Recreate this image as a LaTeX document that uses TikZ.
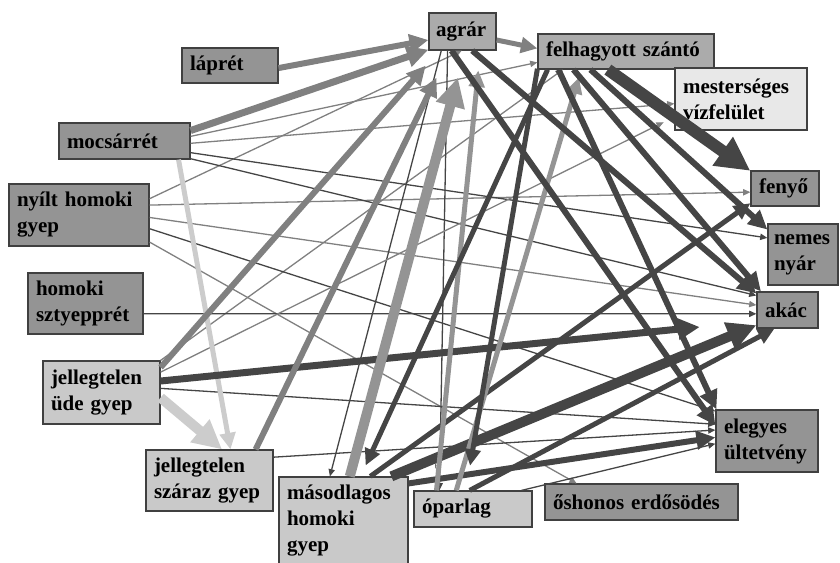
\documentclass[tikz,border=0pt]{standalone}
\usepackage{fontspec}
\setmainfont{Liberation Serif}
\usetikzlibrary{arrows.meta}

\tikzset{
  box/.style={draw=black!75, line width=1.2pt, inner xsep=8pt, inner ysep=2pt,
    align=left, font=\fontsize{21}{26}\selectfont\bfseries},
  darkbox/.style={box, fill=black!42},
  midbox/.style={box, fill=black!33},
  lightbox/.style={box, fill=black!21},
  palebox/.style={box, fill=black!9},
  flow/.style={-{Triangle[length=4pt 2.5, width=3pt 2.5]}},
  fw1/.style={flow, line width=1.3pt},
  fw5/.style={flow, line width=5pt},
  fw6/.style={flow, line width=6pt},
  fw7/.style={flow, line width=7pt},
  fw10/.style={flow, line width=10pt},
  fw12/.style={flow, line width=12pt},
  dk/.style={color=black!73},
  gy/.style={color=black!50},
  lgy/.style={color=black!42},
  lt/.style={color=black!20},
}

\begin{document}
\begin{tikzpicture}[x=1pt, y=-1pt]
  \useasboundingbox (0,0) rectangle (840,562);
  \clip (0,0) rectangle (840,562);

  % land cover classes
  \node[darkbox, text width=80pt, minimum height=35pt] (lap) at (230,65.5) {láprét};
  \node[midbox, text width=53pt, inner xsep=7pt, minimum height=37pt] (agr) at (462.5,31.5) {agrár};
  \node[midbox, text width=160pt, minimum height=35pt] (fel) at (626,51.5) {felhagyott szántó};
  \node[palebox, text width=116pt, minimum height=62pt] (mes) at (741,99) {mesterséges\\vízfelület};
  \node[darkbox, text width=52pt, minimum height=35pt] (fen) at (785,188.5) {fenyő};
  \node[darkbox, text width=58pt, inner xsep=6pt, minimum height=61pt] (nem) at (803,254.5) {nemes\\nyár};
  \node[darkbox, text width=45pt, minimum height=36pt] (aka) at (787.5,310) {akác};
  \node[darkbox, text width=86pt, minimum height=62pt] (ele) at (767,441) {elegyes\\ültetvény};
  \node[darkbox, text width=177pt, minimum height=36pt] (osh) at (641.5,502) {őshonos erdősödés};
  \node[lightbox, text width=102pt, minimum height=36pt] (opa) at (473,509) {óparlag};
  \node[lightbox, text width=113pt, minimum height=88pt] (mas) at (343.5,521) {másodlagos\\homoki\\gyep};
  \node[lightbox, text width=111pt, minimum height=61pt] (sza) at (209.5,480.5) {jellegtelen\\száraz gyep};
  \node[lightbox, text width=101pt, minimum height=63pt] (ude) at (101.5,392.5) {jellegtelen\\üde gyep};
  \node[darkbox, text width=99pt, minimum height=61pt] (szt) at (85.5,303.5) {homoki\\sztyepprét};
  \node[darkbox, text width=124pt, minimum height=62pt] (nyi) at (79,215) {nyílt homoki\\gyep};
  \node[darkbox, text width=115pt, minimum height=36pt] (moc) at (124.5,141) {mocsárrét};
  \node[font=\fontsize{10}{10}\selectfont, text=black!65] (six) at (437,466) {6};

  % thin transitions
  \foreach \from/\to in {moc.4/fel.187, moc.-2/mes.184, nyi.13/agr.268, nyi.8/fen.186,
      nyi.-2/aka.171, nyi.-21/osh.164, ude.north east/fel.196}
    \draw[fw1,gy] (\from) -- (\to);
  \foreach \from/\to in {moc.-10/nem.155, moc.-15/aka.155, nyi.-11/ele.150, szt.-10/aka.187,
      ude.4/ele.162, sza.20/ele.168, agr.222/mas.107, agr.232/opa.151, opa.21/ele.183}
    \draw[fw1,dk] (\from) -- (\to);
  \draw[fw1,gy,shorten >=12pt] (ude.19) -- (mes.195);

  % from the left
  \draw[fw6,gy] (lap.-3) -- (agr.194);
  \draw[fw7,gy] (moc.9) -- (agr.208);
  \draw[fw5,lt] (moc.-19) -- (sza.56);
  \draw[fw10,lt] (ude.-5) -- (sza.68);
  \draw[fw6,gy,shorten >=20pt] (ude.23) -- (agr.219);
  \draw[fw7,dk,shorten >=57pt] (ude.11) -- (aka.200);
  \draw[fw6,gy,shorten >=30pt] (sza.34) -- (agr.236);

  % from the bottom
  \draw[fw10,lgy,shorten >=28pt] (mas.82) -- (agr.278);
  \draw[fw5,dk] (mas.59) -- (fen.203);
  \draw[fw10,dk] (mas.43) -- (aka.206);
  \draw[fw6,dk] (mas.30) -- (ele.176);
  \draw[fw5,lgy,shorten >=20pt] (opa.153) -- (agr.313);
  \draw[fw5,lgy,shorten >=8pt] (opa.132) -- (fel.202);
  \draw[fw5,dk] (opa.100) -- (aka.235);

  % from agrár and felhagyott szántó
  \draw[fw5,gy] (agr.-14) -- (fel.178);
  \draw[fw6,dk] (agr.240) -- (ele.163);
  \draw[fw6,dk] (agr.297) -- (aka.152);
  \draw[fw5,dk,shorten >=25pt] (fel.191.5) -- (opa.111);
  \draw[fw5,dk,shorten >=12pt] (fel.193) -- (mas.69);
  \draw[fw6,dk] (fel.195) -- (ele.148);
  \draw[fw6,dk] (fel.199) -- (aka.145);
  \draw[fw6,dk] (fel.207) -- (nem.145);
  \draw[fw12,dk] (fel.225) -- (fen.153);
\end{tikzpicture}
\end{document}
